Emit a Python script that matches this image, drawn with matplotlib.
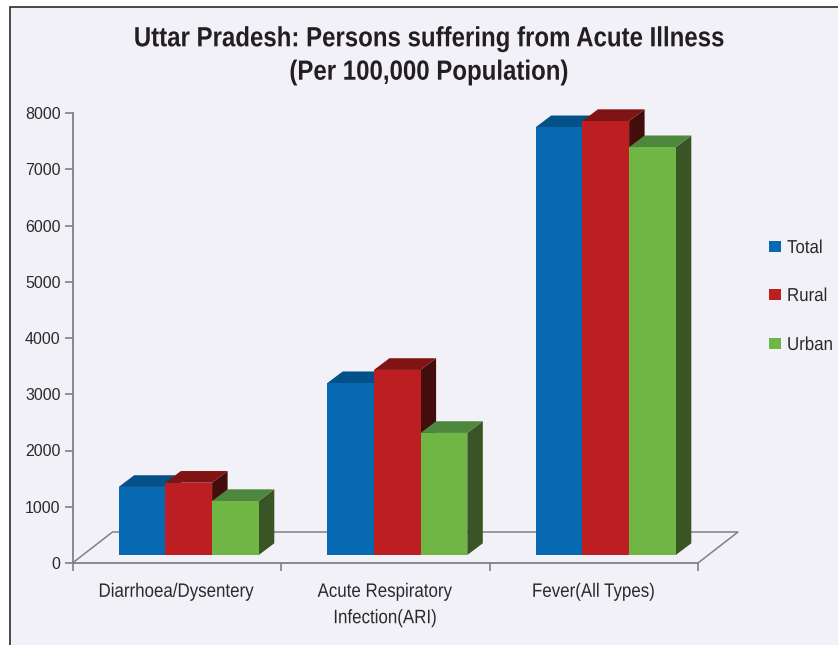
import matplotlib
matplotlib.use("Agg")
import matplotlib.pyplot as plt
from matplotlib.patches import Polygon, Rectangle
from matplotlib.patheffects import AbstractPathEffect
from matplotlib.transforms import Affine2D

categories = ['Diarrhoea/Dysentery', 'Acute Respiratory\nInfection(ARI)', 'Fever(All Types)']
total = [1210, 3055, 7605]
rural = [1285, 3290, 7715]
urban = [960, 2170, 7250]
series_names = ['Total', 'Rural', 'Urban']
yticks = [0, 1000, 2000, 3000, 4000, 5000, 6000, 7000, 8000]

W, H = 838, 645
BG = '#f3f1f8'
FONT = 'Liberation Sans'


class Condense(AbstractPathEffect):
    """Squeeze text horizontally about a fixed x position (display pixels)."""
    def __init__(self, cx, sx):
        super().__init__()
        self.cx, self.sx = cx, sx

    def draw_path(self, renderer, gc, tpath, affine, rgbFace=None):
        t = affine + Affine2D().translate(-self.cx, 0).scale(self.sx, 1).translate(self.cx, 0)
        renderer.draw_path(gc, tpath, t, rgbFace)


fig = plt.figure(figsize=(W / 100, H / 100), dpi=100, facecolor='white')
fig.add_artist(Rectangle((9.5 / W, -0.01), (W + 5) / W, (H - 6.5) / H + 0.01, transform=fig.transFigure,
                         fc=BG, ec='#2b2b2b', lw=1.2, zorder=-5))

L, R, T, B = 72.5, 698, 113, 563
ax = fig.add_axes([L / W, 1 - B / H, (R - L) / W, (B - T) / H], zorder=2)
ax.patch.set_alpha(0)
ax.set_xlim(-0.5, 2.5)
ax.set_ylim(0, 8000)
pxx = 3 / (R - L)
pxy = 8000 / (B - T)

GREY = '#808084'
for s in ('top', 'right'):
    ax.spines[s].set_visible(False)
for s in ('left', 'bottom'):
    ax.spines[s].set_color(GREY)
    ax.spines[s].set_linewidth(1.3)
ax.set_yticks(yticks)
ax.set_yticklabels([str(v) for v in yticks], fontsize=11.5, family=FONT, color='#2a2a2a')
ax.set_xticks([-0.5, 0.5, 1.5, 2.5])
ax.set_xticklabels([])
ax.tick_params(axis='both', color=GREY, width=1.2, length=5.5, pad=3)

# floor
fdx, fdy = 40 * pxx, 31 * pxy
ax.plot([-0.5, -0.5 + fdx, 2.5 + fdx, 2.5], [0, fdy, fdy, 0], color=GREY, lw=1.1, clip_on=False, zorder=1)

# 3-D bars
faces = ['#0869b3', '#bd1e22', '#70b644']
tops = ['#045089', '#801414', '#4e883e']
sides = ['#03365e', '#430d0c', '#3a5525']
bw = 46.7 * pxx
shift = 12 * pxx
base = 8 * pxy
ddx, ddy = 15.5 * pxx, 11.7 * pxy
for s, vals in enumerate([total, rural, urban]):
    for c, v in enumerate(vals):
        x0 = c + shift + (s - 1.5) * bw
        x1 = x0 + bw
        top = base + v
        z = 3 + s * 0.1
        ax.add_patch(Polygon([(x1, base), (x1 + ddx, base + ddy), (x1 + ddx, top + ddy), (x1, top)],
                             fc=sides[s], ec='none', zorder=z, clip_on=False))
        ax.add_patch(Polygon([(x0, top), (x0 + ddx, top + ddy), (x1 + ddx, top + ddy), (x1, top)],
                             fc=tops[s], ec='none', zorder=z, clip_on=False))
        ax.bar(x0, v, width=bw, bottom=base, align='edge', color=faces[s], zorder=z + 0.05)

# category labels
SX = 0.87
for c, label in enumerate(categories):
    t = ax.annotate(label, xy=(c, 0), xycoords='data', xytext=(0, -15), textcoords='offset points',
                    ha='center', va='top', fontsize=14, family=FONT, color='#2a2a2a', linespacing=1.72,
                    annotation_clip=False)
    cx = ax.transData.transform((c, 0))[0]
    t.set_path_effects([Condense(cx, SX)])

# title
t = fig.text(429 / W, 1 - 56 / H, 'Uttar Pradesh: Persons suffering from Acute Illness\n(Per 100,000 Population)',
             ha='center', va='center', fontsize=20, fontweight='bold', family=FONT, color='#231f20', linespacing=1.37)
t.set_path_effects([Condense(429, 0.865)])

# legend
for s, (name, yc) in enumerate(zip(series_names, [246, 294, 343])):
    fig.add_artist(Rectangle((769 / W, 1 - (yc + 5.5) / H), 11.5 / W, 11 / H, transform=fig.transFigure,
                             fc=faces[s], ec='none', zorder=1))
    t = fig.text(787 / W, 1 - (yc + 2.5) / H, name, ha='left', va='center', fontsize=13.5, family=FONT, color='#2a2a2a')
    t.set_path_effects([Condense(787, 0.9)])

fig.savefig('out.png', dpi=100, facecolor='white')
